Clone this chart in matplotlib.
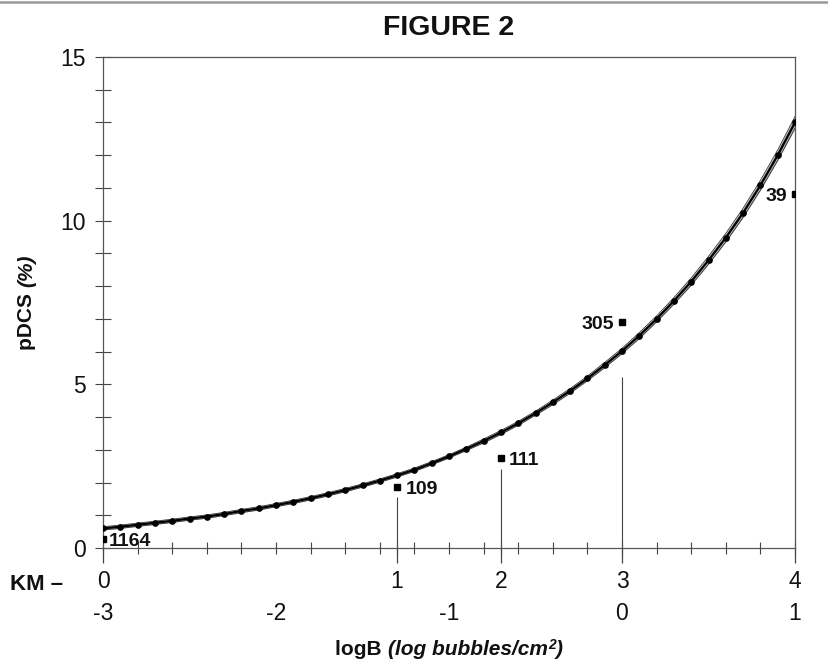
import matplotlib
matplotlib.use('Agg')
import numpy as np
import matplotlib.pyplot as plt
from matplotlib.ticker import FixedLocator
from matplotlib.lines import Line2D

plt.rcParams['font.family'] = ['Liberation Sans', 'DejaVu Sans']

# ---------------- data ----------------
log_b = [-3.0, -2.9, -2.8, -2.7, -2.6, -2.5, -2.4, -2.3, -2.2, -2.1,
         -2.0, -1.9, -1.8, -1.7, -1.6, -1.5, -1.4, -1.3, -1.2, -1.1,
         -1.0, -0.9, -0.8, -0.7, -0.6, -0.5, -0.4, -0.3, -0.2, -0.1,
         0.0, 0.1, 0.2, 0.3, 0.4, 0.5, 0.6, 0.7, 0.8, 0.9, 1.0]
pdcs = [0.60, 0.65, 0.71, 0.77, 0.83, 0.90, 0.96, 1.04, 1.13, 1.21,
        1.31, 1.41, 1.52, 1.64, 1.77, 1.91, 2.06, 2.22, 2.39, 2.59,
        2.80, 3.03, 3.27, 3.53, 3.81, 4.12, 4.45, 4.80, 5.18, 5.59,
        6.02, 6.49, 7.00, 7.55, 8.14, 8.79, 9.48, 10.24, 11.08, 12.00, 13.00]
band_half = [0.05, 0.05, 0.05, 0.05, 0.05, 0.05, 0.05, 0.05, 0.05, 0.05,
             0.05, 0.05, 0.05, 0.05, 0.05, 0.05, 0.05, 0.05, 0.05, 0.05,
             0.05, 0.05, 0.06, 0.06, 0.06, 0.06, 0.07, 0.07, 0.07, 0.08,
             0.08, 0.09, 0.09, 0.10, 0.11, 0.12, 0.13, 0.14, 0.15, 0.16, 0.18]

obs_x = [-3.0, -1.3, -0.7, 0.0, 1.0]
obs_y = [0.26, 1.86, 2.74, 6.89, 10.8]
obs_n = ['1164', '109', '111', '305', '39']
obs_line_top = [None, 1.55, 2.41, 5.21, None]

km_pos = [-3.0, -1.3, -0.7, 0.0, 1.0]
km_labels = ['0', '1', '2', '3', '4']
logb_ticks = [-3, -2, -1, 0, 1]
logb_labels = ['-3', '-2', '-1', '0', '1']
y_ticks = list(range(16))
y_labels = ['0', '', '', '', '', '5', '', '', '', '', '10', '', '', '', '', '15']

# ---------------- figure ----------------
W, H = 829, 664
fig = plt.figure(figsize=(W / 100, H / 100), dpi=100)
ax = fig.add_axes([103 / W, 116 / H, 692 / W, 491 / H])

upper = np.array(pdcs) + np.array(band_half)
lower = np.array(pdcs) - np.array(band_half)
ax.fill_between(log_b, lower, upper, color='#b4b4b4', lw=0, zorder=2)
ax.plot(log_b, upper, color='#333333', lw=0.6, zorder=3)
ax.plot(log_b, lower, color='#333333', lw=0.6, zorder=3)
ax.plot(log_b, pdcs, color='black', lw=1.6, marker='o', ms=3.8, zorder=4)

for x, top in zip(obs_x, obs_line_top):
    if top is not None:
        ax.vlines(x, 0, top, color='#444444', lw=0.8, zorder=1)

ax.plot(obs_x, obs_y, ls='none', marker='s', ms=4.6, color='black', zorder=5)
offsets = [(4, 'left'), (6.5, 'left'), (5.3, 'left'), (-6, 'right'), (-5.6, 'right')]
for x, y, n, (dx, ha) in zip(obs_x, obs_y, obs_n, offsets):
    ax.annotate(n, (x, y), xytext=(dx, 0), textcoords='offset points',
                ha=ha, va='center_baseline', fontsize=14, fontweight='bold',
                color='#111111', zorder=6)

ax.set_xlim(-3, 1)
ax.set_ylim(0, 15)

for s in ax.spines.values():
    s.set_color('#555555')
    s.set_linewidth(0.9)

ax.set_xticks(km_pos)
ax.set_xticklabels(km_labels)
minor = sorted(set(np.round(np.linspace(-3, 1, 21), 2).tolist()) | set(km_pos))
ax.xaxis.set_minor_locator(FixedLocator(minor))
ax.xaxis.remove_overlapping_locs = False
ax.tick_params(axis='x', which='major', direction='out', length=11, width=0.9,
               pad=4.5, labelsize=16.5, color='#444444', labelcolor='#111111')
ax.tick_params(axis='x', which='minor', direction='inout', length=8, width=0.8,
               color='#444444')

ax.set_yticks(y_ticks)
ax.set_yticklabels(y_labels)
ax.tick_params(axis='y', which='major', direction='inout', length=11, width=0.8,
               pad=7, labelsize=16.5, color='#444444', labelcolor='#111111')

xt = ax.get_xaxis_transform()
for v, lab in zip(logb_ticks, logb_labels):
    ax.text(v, -63 / 491, lab, transform=xt, ha='center', va='center_baseline',
            fontsize=16.5, color='#111111')

fig.text(63 / W, 1 - 582 / H, 'KM \u2013', ha='right', va='center_baseline',
         fontsize=16, fontweight='bold', color='#111111')

fig.text(449 / W, 1 - 25 / H, 'FIGURE 2', ha='center', va='center_baseline',
         fontsize=20.5, fontweight='bold', color='#111111')

fig.add_artist(Line2D([0, 1], [1 - 1.5 / H, 1 - 1.5 / H], transform=fig.transFigure,
                      color='#999999', lw=1.8))

# x label composed of bold + bold italic pieces
xl1 = fig.text(0.4, 1 - 655 / H, 'logB ', ha='left', va='baseline',
               fontsize=15, fontweight='bold', color='#111111')
xl2 = ax.annotate('(log bubbles/cm', xy=(1, 0), xycoords=xl1, ha='left', va='bottom',
                  fontsize=15, fontweight='bold', fontstyle='italic', color='#111111',
                  annotation_clip=False)
xl3 = ax.annotate('2', xy=(1, 1), xycoords=xl2, xytext=(0.5, 1.5), textcoords='offset points',
                  ha='left', va='top', fontsize=10, fontweight='bold', fontstyle='italic',
                  color='#111111', annotation_clip=False)
xl4 = ax.annotate(')', xy=(1, 0), xycoords=(xl3, xl2), ha='left', va='bottom',
                  fontsize=15, fontweight='bold', fontstyle='italic', color='#111111',
                  annotation_clip=False)

# y label
yl1 = fig.text(27 / W, 0.45, 'pDCS ', ha='center', va='bottom', rotation=90,
               fontsize=15, fontweight='bold', color='#111111')
yl2 = ax.annotate('(%)', xy=(0.5, 1), xycoords=yl1, ha='center', va='bottom', rotation=90,
                  fontsize=15, fontweight='bold', fontstyle='italic', color='#111111',
                  annotation_clip=False)

fig.canvas.draw()
r = fig.canvas.get_renderer()
b1 = xl1.get_window_extent(r)
b4 = xl4.get_window_extent(r)
total_w = b4.x1 - b1.x0
xl1.set_x((449 - total_w / 2) / W)
c1 = yl1.get_window_extent(r)
c2 = yl2.get_window_extent(r)
total_h = c2.y1 - c1.y0
yl1.set_y((H - 302 - total_h / 2) / H)

fig.savefig('out.png', dpi=100)
